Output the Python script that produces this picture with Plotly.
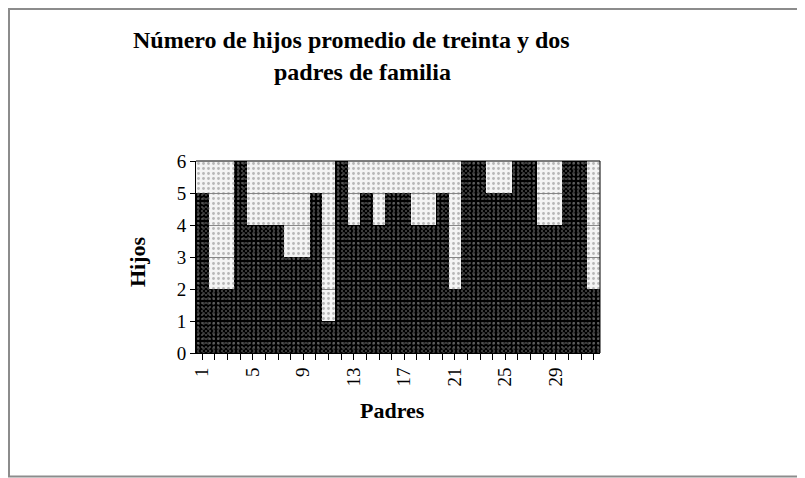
import plotly.graph_objects as go

padres = list(range(1, 33))
hijos = [5, 2, 2, 6, 4, 4, 4, 3, 3, 5, 1, 6, 4, 5, 4, 5,
         5, 4, 4, 5, 2, 6, 6, 5, 5, 6, 6, 4, 4, 6, 6, 2]
tick_vals = [1, 5, 9, 13, 17, 21, 25, 29]
y_ticks = [0, 1, 2, 3, 4, 5, 6]
title_lines = ["Número de hijos promedio de treinta y dos", "padres de familia"]
x_title = "Padres"
y_title = "Hijos"

serif = "Liberation Serif, Times New Roman, serif"

# figure geometry (page body adds an 8px offset)
W, H = 797, 470
L, R, T, B = 188, 205, 153, 125
PW, PH = W - L - R, H - T - B


def px(xf):
    return (xf - L) / PW


def py(yf):
    return (H - B - yf) / PH


fig = go.Figure()

# dotted light background wall
fig.add_trace(go.Bar(
    x=[16.5], y=[6], width=[32], xaxis="x2",
    marker=dict(color="rgba(0,0,0,0)", line=dict(width=0),
                pattern=dict(shape=".", fgcolor="#7a7a7a", bgcolor="rgba(0,0,0,0)",
                             size=5, solidity=0.25)),
    hoverinfo="skip", showlegend=False,
))

fig.add_trace(go.Bar(
    x=padres, y=hijos, width=1.0,
    marker=dict(color="#000000", line=dict(width=0),
                pattern=dict(shape=".", fgcolor="#a0a0a0", bgcolor="#000000",
                             size=4, solidity=0.2)),
    showlegend=False,
))

fig.update_layout(
    width=W, height=H,
    paper_bgcolor="white", plot_bgcolor="#f4f4f4",
    margin=dict(l=L, r=R, t=T, b=B, autoexpand=False),
    bargap=0,
    xaxis=dict(range=[0.5, 32.5], tickmode="array", tickvals=padres,
               ticktext=[str(p) if p in tick_vals else "" for p in padres],
               tickangle=-90, ticks="outside", ticklen=6, tickcolor="black",
               showline=True, linecolor="black", linewidth=1,
               showgrid=False, zeroline=False,
               tickfont=dict(family=serif, size=19, color="black")),
    xaxis2=dict(range=[0.5, 32.5], overlaying="x", visible=False),
    yaxis=dict(range=[0, 6], tickvals=y_ticks, ticks="outside", ticklen=5, tickcolor="black",
               showline=True, linecolor="black", linewidth=1,
               showgrid=True, gridcolor="#888888", gridwidth=1, zeroline=False,
               tickfont=dict(family=serif, size=19, color="black")),
)

# title lines
fig.add_annotation(text=title_lines[0], xref="paper", yref="paper",
                   x=px(343), y=py(32), xanchor="center", yanchor="middle", showarrow=False,
                   font=dict(family=serif, size=24, color="black", weight="bold"))
fig.add_annotation(text=title_lines[1], xref="paper", yref="paper",
                   x=px(354), y=py(64), xanchor="center", yanchor="middle", showarrow=False,
                   font=dict(family=serif, size=24, color="black", weight="bold"))
# axis titles
fig.add_annotation(text=x_title, xref="paper", yref="paper",
                   x=px(384), y=py(402), xanchor="center", yanchor="middle", showarrow=False,
                   font=dict(family=serif, size=22, color="black", weight="bold"))
fig.add_annotation(text=y_title, xref="paper", yref="paper", textangle=-90,
                   x=px(129), y=py(254), xanchor="center", yanchor="middle", showarrow=False,
                   font=dict(family=serif, size=22, color="black", weight="bold"))

# outer frame (left, top, bottom edges; right edge falls outside the picture)
frame = dict(color="#8c8c8c", width=2)
fig.add_shape(type="line", xref="paper", yref="paper",
              x0=px(1), x1=px(1), y0=py(0), y1=py(H - 1), line=frame)
fig.add_shape(type="line", xref="paper", yref="paper",
              x0=px(0), x1=px(W), y0=py(1), y1=py(1), line=frame)
fig.add_shape(type="line", xref="paper", yref="paper",
              x0=px(0), x1=px(W), y0=py(H - 1.5), y1=py(H - 1.5), line=frame)
# top and right edges of plot box
fig.add_shape(type="line", xref="paper", yref="paper", x0=0, x1=1, y0=1, y1=1,
              line=dict(color="black", width=1), layer="above")
fig.add_shape(type="line", xref="paper", yref="paper", x0=1, x1=1, y0=0, y1=1,
              line=dict(color="black", width=1), layer="above")

fig.write_html("out.html")
